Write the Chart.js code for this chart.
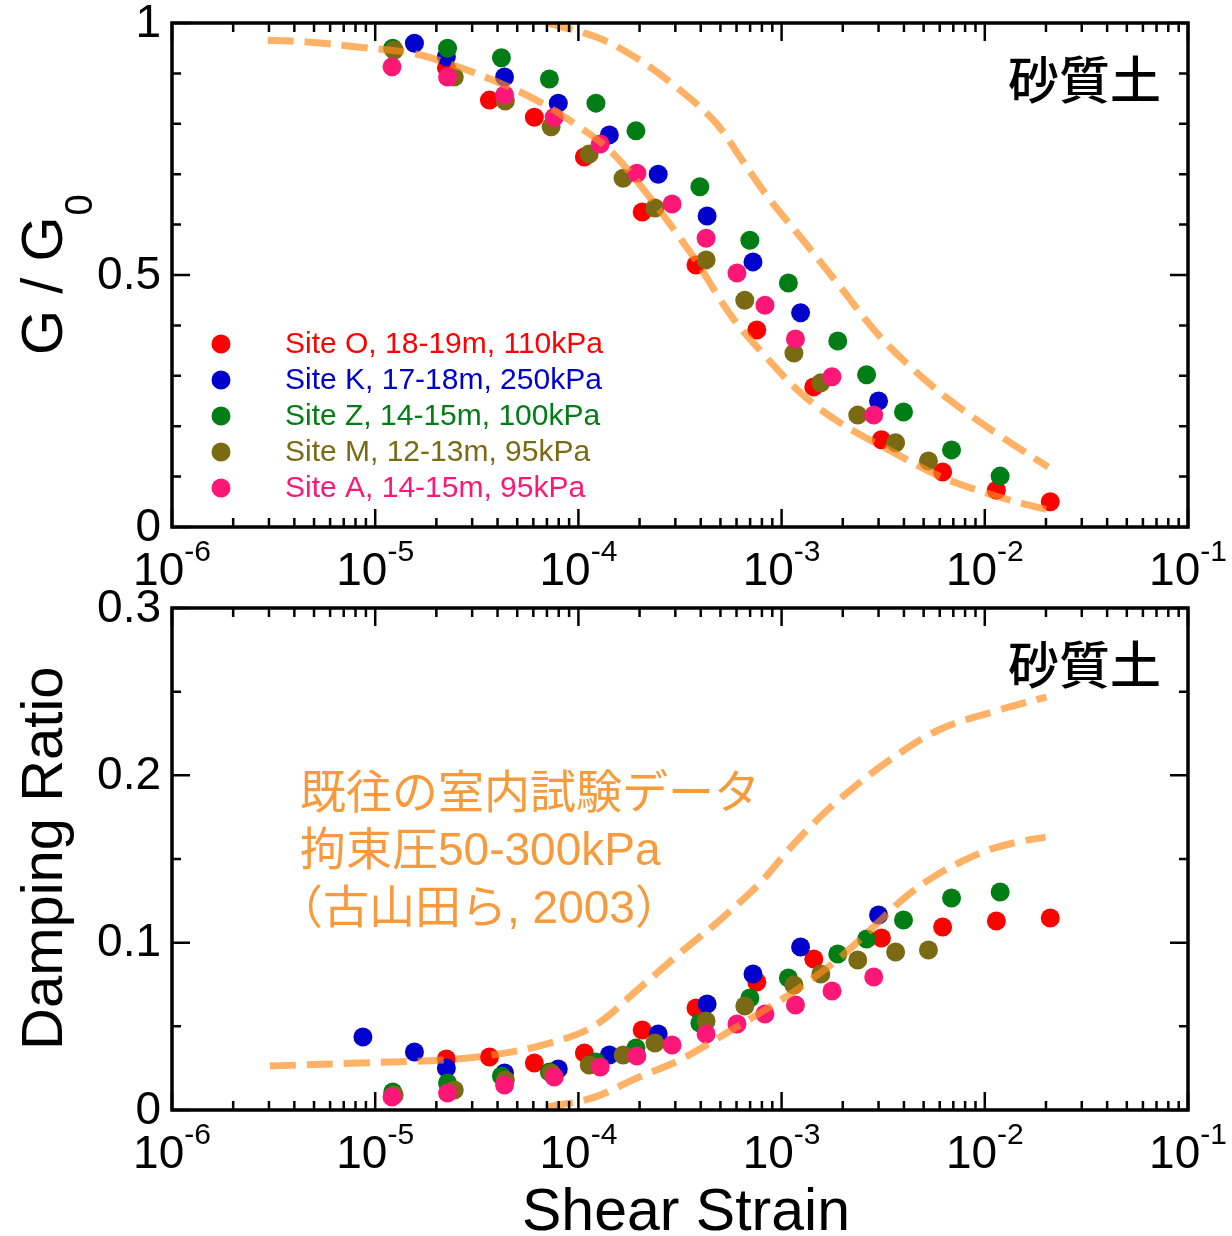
<!DOCTYPE html>
<html><head><meta charset="utf-8">
<script src="https://cdn.jsdelivr.net/npm/chart.js@4.4.1/dist/chart.umd.min.js"></script>
<style>
html,body{margin:0;padding:0;background:#fff;}
#wrap{position:relative;width:1232px;height:1236px;overflow:hidden;}
#c1{position:absolute;left:0;top:0;}
#c2{position:absolute;left:0;top:590px;}
</style></head>
<body><div id="wrap"><canvas id="c1" width="1232" height="590"></canvas><canvas id="c2" width="1232" height="646"></canvas></div>
<script>
// ---------- data ----------
const siteLabels = ['Site O, 18-19m, 110kPa','Site K, 17-18m, 250kPa','Site Z, 14-15m, 100kPa','Site M, 12-13m, 95kPa','Site A, 14-15m, 95kPa'];
const siteColors = ['#FF0000','#0000CC','#007D14','#7B6A14','#FF1777'];

const oStrain = [2.24e-5,3.65e-5,6.07e-5,1.07e-4,2.06e-4,3.79e-4,7.55e-4,1.44e-3,3.1e-3,6.2e-3,1.14e-2,2.1e-2];
const oG      = [0.911,0.847,0.813,0.734,0.625,0.520,0.391,0.278,0.173,0.109,0.073,0.050];
const oD      = [0.0305,0.0317,0.0281,0.0341,0.0478,0.0610,0.0765,0.0902,0.1028,0.1094,0.1129,0.1147];

const kStrain = [8.7e-6,1.56e-5,2.24e-5,4.33e-5,7.96e-5,1.42e-4,2.47e-4,4.30e-4,7.23e-4,1.24e-3,3.0e-3];
const kG      = [null,0.960,0.933,0.893,0.841,0.778,0.700,0.617,0.526,0.425,0.250];
const kD      = [0.0436,0.0347,0.0251,0.0221,0.0245,0.0329,0.0454,0.0633,0.0813,0.0974,0.1165];

const zStrain = [1.22e-5,2.27e-5,4.18e-5,7.2e-5,1.22e-4,1.92e-4,3.96e-4,6.98e-4,1.08e-3,1.89e-3,2.62e-3,3.98e-3,6.86e-3,1.19e-2];
const zG      = [0.950,0.950,0.931,0.889,0.841,0.786,0.675,0.569,0.484,0.369,0.302,0.228,0.153,0.101];
const zD      = [0.0108,0.0161,0.0203,0.0227,0.0287,0.0371,0.0520,0.0669,0.0789,0.0932,0.1022,0.1135,0.1267,0.1303];

const mStrain = [1.24e-5,2.45e-5,4.37e-5,7.34e-5,1.13e-4,1.66e-4,2.38e-4,4.25e-4,6.59e-4,1.15e-3,1.56e-3,2.37e-3,3.64e-3,5.28e-3];
const mG      = [0.946,0.893,0.845,0.794,0.740,0.692,0.633,0.530,0.450,0.345,0.286,0.222,0.167,0.131];
const mD      = [0.0090,0.0120,0.0179,0.0221,0.0269,0.0329,0.0400,0.0532,0.0622,0.0747,0.0813,0.0896,0.0944,0.0956];

const aStrain = [1.21e-5,2.27e-5,4.33e-5,7.6e-5,1.28e-4,1.94e-4,2.89e-4,4.25e-4,6.03e-4,8.28e-4,1.17e-3,1.77e-3,2.84e-3];
const aG      = [0.913,0.893,0.857,0.813,0.760,0.702,0.641,0.573,0.504,0.440,0.373,0.298,0.222];
const aD      = [0.0078,0.0102,0.0149,0.0197,0.0257,0.0323,0.0388,0.0454,0.0514,0.0574,0.0627,0.0711,0.0795];

// past laboratory data bounds (dashed)
const gUpperStrain = [7.03e-5,1.26e-4,1.99e-4,3.16e-4,4.75e-4,6.24e-4,8.55e-4,1.24e-3,1.95e-3,2.94e-3,4.46e-3,7.02e-3,1.21e-2,2.05e-2];
const gUpper       = [1.0,0.970,0.927,0.867,0.802,0.734,0.655,0.575,0.476,0.385,0.312,0.246,0.179,0.119];
const gLowerStrain = [2.96e-6,4.76e-6,8.37e-6,1.53e-5,2.24e-5,3.78e-5,6.21e-5,9.75e-5,1.42e-4,2.10e-4,3.62e-4,5.69e-4,7.82e-4,1.24e-3,1.95e-3,3.37e-3,6.12e-3,1.21e-2,2.05e-2];
const gLower       = [0.966,0.962,0.952,0.940,0.921,0.887,0.847,0.798,0.748,0.669,0.540,0.417,0.351,0.266,0.206,0.153,0.099,0.058,0.034];
const dUpperStrain = [3.03e-6,8.37e-6,2.14e-5,3.78e-5,6.64e-5,1.17e-4,2.0e-4,3.16e-4,4.97e-4,7.82e-4,1.08e-3,1.41e-3,1.91e-3,3.25e-3,5.92e-3,1.17e-2,2.01e-2];
const dUpper       = [0.0263,0.0281,0.0299,0.0329,0.0388,0.0496,0.0729,0.0938,0.1135,0.1356,0.1554,0.1703,0.1853,0.2074,0.2271,0.2390,0.2468];
const dLowerStrain = [7.03e-5,1.17e-4,1.99e-4,3.16e-4,4.97e-4,7.82e-4,1.24e-3,1.95e-3,3.0e-3,4.07e-3,5.47e-3,7.41e-3,1.04e-2,1.46e-2,1.99e-2];
const dLower       = [0.0018,0.0072,0.0197,0.0299,0.0436,0.0580,0.0735,0.0914,0.1123,0.1273,0.1386,0.1476,0.1554,0.1602,0.1631];

// ticks
const xExponents = [-6,-5,-4,-3,-2,-1];
const xMinorMultipliers = [2,3,4,5,6,7,8,9];
const gTickValues = [0,0.5,1];
const gTickLabels = ['0','0.5','1'];
const gMinorTicks = [0.1,0.2,0.3,0.4,0.6,0.7,0.8,0.9];
const dTickValues = [0,0.1,0.2,0.3];
const dTickLabels = ['0','0.1','0.2','0.3'];
const dMinorTicks = [0.05,0.15,0.25];

const soilLabel = '砂質土';
const noteLines = ['既往の室内試験データ','拘束圧50-300kPa','（古山田ら, 2003）'];
const xTitle = 'Shear Strain';
const dTitle = 'Damping Ratio';

// ---------- helpers ----------
const LAT = '"Liberation Sans", Arial, sans-serif';
const CJK = '"Liberation Sans", "Noto Sans CJK JP", sans-serif';
const dashColor = 'rgba(255,140,30,0.68)';
const pts = (xs, ys) => xs.map((x,i)=>({x:x, y:ys[i]})).filter(p=>p.y!==null);

function siteSets(yArrays){
  const xs=[oStrain,kStrain,zStrain,mStrain,aStrain];
  return siteLabels.map((lab,i)=>({
    type:'scatter', label:lab, data:pts(xs[i], yArrays[i]),
    backgroundColor:siteColors[i], borderWidth:0, pointRadius:9.5, pointHoverRadius:9.5,
    order: 5-i
  }));
}
function dashSet(xs, ys){
  return {type:'line', label:'', data:pts(xs,ys), borderColor:dashColor, borderWidth:7,
    borderDash:[26,11], pointRadius:0, fill:false, tension:0.35, order:0};
}

function drawPow(ctx, cx, base, exp){
  ctx.textAlign='left'; ctx.textBaseline='alphabetic';
  ctx.font='46px '+LAT; const w1=ctx.measureText('10').width;
  ctx.font='30px '+LAT; const e=String(exp); const w2=ctx.measureText(e).width;
  const x0=cx-(w1+w2)/2;
  ctx.font='46px '+LAT; ctx.fillText('10',x0,base);
  ctx.font='30px '+LAT; ctx.fillText(e,x0+w1,base-24);
}

function framePlugin(cfg){
  return {id:'frame'+cfg.key, afterDraw(chart){
    const ctx=chart.ctx, a=chart.chartArea, xs=chart.scales.x, ys=chart.scales.y;
    ctx.save();
    ctx.strokeStyle='#000'; ctx.fillStyle='#000';
    ctx.lineWidth=2.5;
    const vt=(px,len)=>{ctx.beginPath();ctx.moveTo(px,a.bottom);ctx.lineTo(px,a.bottom-len);ctx.moveTo(px,a.top);ctx.lineTo(px,a.top+len);ctx.stroke();};
    const ht=(py,len)=>{ctx.beginPath();ctx.moveTo(a.left,py);ctx.lineTo(a.left+len,py);ctx.moveTo(a.right,py);ctx.lineTo(a.right-len,py);ctx.stroke();};
    xExponents.forEach(e=>{
      vt(xs.getPixelForValue(Math.pow(10,e)),18);
      if(e<-1) xMinorMultipliers.forEach(m=>vt(xs.getPixelForValue(m*Math.pow(10,e)),9));
    });
    cfg.yMajor.forEach(v=>ht(ys.getPixelForValue(v),18));
    cfg.yMinor.forEach(v=>ht(ys.getPixelForValue(v),9));
    ctx.lineWidth=3.5;
    ctx.strokeRect(a.left,a.top,a.right-a.left,a.bottom-a.top);
    ctx.font='46px '+LAT; ctx.textAlign='right'; ctx.textBaseline='middle';
    cfg.yMajor.forEach((v,i)=>ctx.fillText(cfg.yLabels[i],a.left-11,ys.getPixelForValue(v)+1));
    xExponents.forEach(e=>drawPow(ctx,xs.getPixelForValue(Math.pow(10,e)),a.bottom+58,e));
    ctx.font='500 51px "Noto Sans CJK JP", sans-serif'; ctx.textAlign='right'; ctx.textBaseline='middle';
    ctx.fillText(soilLabel,1161,a.top+cfg.soilDy);
    cfg.extra(ctx,chart,a);
    ctx.restore();
  }};
}

const commonScales=(ymax,xh)=>({
  x:{type:'logarithmic',min:1e-6,max:1e-1,display:true,ticks:{display:false},grid:{display:false},border:{display:false},
     afterFit:s=>{s.height=xh;}},
  y:{type:'linear',min:0,max:ymax,display:true,ticks:{display:false},grid:{display:false},border:{display:false},
     afterFit:s=>{s.width=172;}}
});

// ---------- top chart ----------
new Chart(document.getElementById('c1'),{
  data:{datasets:[...siteSets([oG,kG,zG,mG,aG]), dashSet(gUpperStrain,gUpper), dashSet(gLowerStrain,gLower)]},
  options:{responsive:false,animation:false,events:[],
    layout:{padding:{left:0,top:23,right:44,bottom:0}},
    plugins:{legend:{display:false},tooltip:{enabled:false}},
    scales:commonScales(1,63)},
  plugins:[framePlugin({key:'g',yMajor:gTickValues,yLabels:gTickLabels,yMinor:gMinorTicks,soilDy:57,
    extra:(ctx,chart,a)=>{
      const rows=[344,380,416,452,488];
      chart.data.datasets.slice(0,5).forEach((ds,i)=>{
        ctx.fillStyle=ds.backgroundColor; ctx.beginPath(); ctx.arc(221,rows[i],9.5,0,Math.PI*2); ctx.fill();
        ctx.font='30px '+LAT; ctx.textAlign='left'; ctx.textBaseline='middle';
        ctx.fillText(ds.label,285,rows[i]+1);
      });
      ctx.fillStyle='#000';
      ctx.save(); ctx.translate(62,355); ctx.rotate(-Math.PI/2);
      ctx.font='58px '+LAT; ctx.textAlign='left'; ctx.textBaseline='alphabetic';
      ctx.fillText('G / G',0,0); const w=ctx.measureText('G / G').width;
      ctx.font='38px '+LAT; ctx.fillText('0',w+1,30);
      ctx.restore();
    }})]
});

// ---------- bottom chart ----------
new Chart(document.getElementById('c2'),{
  data:{datasets:[...siteSets([oD,kD,zD,mD,aD]), dashSet(dUpperStrain,dUpper), dashSet(dLowerStrain,dLower)]},
  options:{responsive:false,animation:false,events:[],
    layout:{padding:{left:0,top:18,right:44,bottom:0}},
    plugins:{legend:{display:false},tooltip:{enabled:false}},
    scales:commonScales(0.3,126)},
  plugins:[framePlugin({key:'d',yMajor:dTickValues,yLabels:dTickLabels,yMinor:dMinorTicks,soilDy:57,
    extra:(ctx,chart,a)=>{
      ctx.fillStyle='#F79A3C'; ctx.font='46px '+CJK; ctx.textAlign='left'; ctx.textBaseline='middle';
      const lx=[300,300,277], ly=[205,262,320];
      noteLines.forEach((t,i)=>ctx.fillText(t,lx[i],ly[i]));
      ctx.fillStyle='#000';
      ctx.save(); ctx.translate(62,460); ctx.rotate(-Math.PI/2);
      ctx.font='58px '+LAT; ctx.textAlign='left'; ctx.textBaseline='alphabetic';
      ctx.fillText(dTitle,0,0); ctx.restore();
      ctx.font='59px '+LAT; ctx.textAlign='center'; ctx.textBaseline='alphabetic';
      ctx.fillText(xTitle,686,640);
    }})]
});
</script>
</body></html>
